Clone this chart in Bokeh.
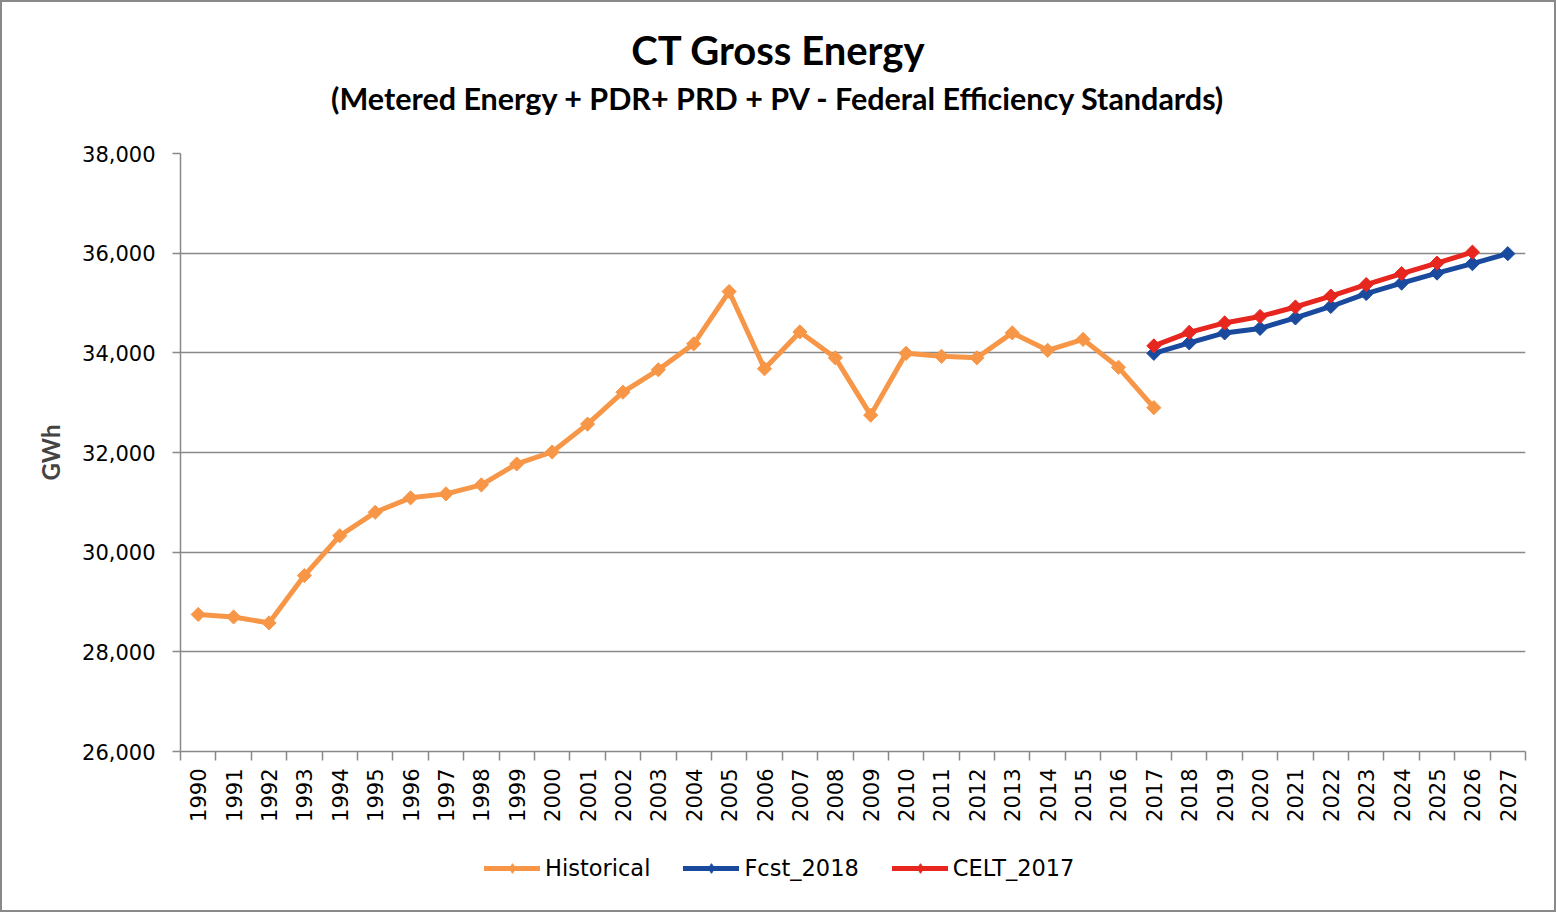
import math
from bokeh.plotting import figure
from bokeh.layouts import column
from bokeh.models import Range1d, FixedTicker, NumeralTickFormatter, Label, Legend, LegendItem
from bokeh.embed import file_html
from bokeh.resources import INLINE

# ---- data -------------------------------------------------------------
years_hist = list(range(1990, 2018))
historical = [28750, 28700, 28580, 29530, 30330, 30800, 31090, 31170, 31350, 31770,
              32010, 32570, 33210, 33660, 34180, 35230, 33680, 34420, 33900, 32750,
              33990, 33930, 33900, 34400, 34050, 34270, 33710, 32900]
years_fcst = list(range(2017, 2028))
fcst_2018 = [33990, 34200, 34400, 34490, 34700, 34930, 35190, 35400, 35600, 35790, 35990]
years_celt = list(range(2017, 2027))
celt_2017 = [34140, 34410, 34600, 34730, 34920, 35140, 35370, 35590, 35800, 36020]
year_ticks = list(range(1990, 2028))
y_ticks = [26000, 28000, 30000, 32000, 34000, 36000, 38000]
title_text = "CT Gross Energy"
subtitle_text = "(Metered Energy + PDR+ PRD + PV - Federal Efficiency Standards)"
y_label = "GWh"
series_names = ["Historical", "Fcst_2018", "CELT_2017"]
colors = ["#F79646", "#1A4A9E", "#E6261F"]

GRID = "#898989"
TICK_FONT = "DejaVu Sans"
TITLE_FONT = "Lato"
W = 1556
LEFT, RIGHT = 180, 31


def blank(h):
    f = figure(width=W, height=h, output_backend="svg", toolbar_location=None,
               x_axis_type=None, y_axis_type=None, x_range=Range1d(0, 1), y_range=Range1d(0, 1),
               min_border_left=LEFT, min_border_right=RIGHT, min_border_top=0, min_border_bottom=0)
    f.outline_line_color = None
    f.grid.visible = False
    f.background_fill_color = None
    f.border_fill_color = None
    return f


# ---- heading (centred on the whole chart) ---------------------------------
head = blank(140)
cx = W / 2 - LEFT
head.add_layout(Label(x=cx, y=91, x_units="screen", y_units="screen", text=title_text,
                      text_align="center", text_baseline="middle", text_font=TITLE_FONT,
                      text_font_style="bold", text_font_size="40px", text_color="black"))
head.add_layout(Label(x=cx, y=43, x_units="screen", y_units="screen", text=subtitle_text,
                      text_align="center", text_baseline="middle", text_font=TITLE_FONT,
                      text_font_style="bold", text_font_size="30.5px", text_color="black"))

# ---- main chart -------------------------------------------------------------
p = figure(width=W, height=710, output_backend="svg", toolbar_location=None,
           x_range=Range1d(year_ticks[0] - 0.5, year_ticks[-1] + 0.5),
           y_range=Range1d(y_ticks[0], y_ticks[-1]),
           min_border_left=LEFT, min_border_right=RIGHT, min_border_top=13, min_border_bottom=99)
p.outline_line_color = None
p.background_fill_color = None
p.border_fill_color = None

xt = FixedTicker(ticks=year_ticks, minor_ticks=[y - 0.5 for y in year_ticks] + [year_ticks[-1] + 0.5])
xa = p.xaxis[0]
xa.ticker = xt
xa.major_label_orientation = math.pi / 2
xa.major_tick_line_color = None
xa.major_tick_out = 0
xa.major_tick_in = 0
xa.minor_tick_out = 9
xa.minor_tick_in = 0
xa.minor_tick_line_color = GRID
xa.minor_tick_line_width = 1.5
xa.axis_line_color = GRID
xa.axis_line_width = 1.5
xa.major_label_text_font = TICK_FONT
xa.major_label_text_font_size = "21px"
xa.major_label_text_color = "black"
xa.major_label_standoff = 8

ya = p.yaxis[0]
ya.ticker = FixedTicker(ticks=y_ticks)
ya.formatter = NumeralTickFormatter(format="0,0")
ya.major_tick_out = 8
ya.major_tick_in = 0
ya.major_tick_line_color = GRID
ya.major_tick_line_width = 1.5
ya.minor_tick_line_color = None
ya.axis_line_color = GRID
ya.axis_line_width = 1.5
ya.major_label_text_font = TICK_FONT
ya.major_label_text_font_size = "21px"
ya.major_label_text_color = "black"
ya.major_label_standoff = 17
ya.axis_label = y_label
ya.axis_label_text_font = TITLE_FONT
ya.axis_label_text_font_style = "bold"
ya.axis_label_text_font_size = "24px"
ya.axis_label_standoff = 14

p.xgrid.visible = False
p.ygrid.ticker = FixedTicker(ticks=y_ticks)
p.ygrid.grid_line_color = GRID
p.ygrid.grid_line_width = 1.5

series = [(series_names[0], years_hist, historical, colors[0]),
          (series_names[1], years_fcst, fcst_2018, colors[1]),
          (series_names[2], years_celt, celt_2017, colors[2])]
for name, xs, ys, c in series:
    p.line(xs, ys, line_color=c, line_width=5, line_join="round", line_cap="round")
    p.scatter(xs, ys, marker="square", angle=math.pi / 4, size=10, fill_color=c, line_color=c)

# ---- legend strip (its glyphs come from the same series, outside its empty range) ----
leg = blank(62)
items = []
for name, xs, ys, c in series:
    ln = leg.line(xs, ys, line_color=c, line_width=5, line_cap="round")
    sc = leg.scatter(xs, ys, marker="diamond", size=15, fill_color=c, line_color=c)
    items.append(LegendItem(label=name, renderers=[ln, sc]))
legend = Legend(items=items, orientation="horizontal", location=(484 - LEFT, 31),
                glyph_width=56, glyph_height=24, label_height=24,
                label_standoff=5, spacing=33, padding=0, margin=0,
                border_line_color=None, background_fill_alpha=0,
                label_text_font=TICK_FONT, label_text_font_size="22.5px",
                label_text_color="black")
leg.add_layout(legend, "center")

page = column(head, p, leg, spacing=0)
page.styles = {"outline": "2px solid #898989", "outline-offset": "-2px",
               "background-color": "white"}

open("out.html", "w").write(file_html(page, INLINE))
